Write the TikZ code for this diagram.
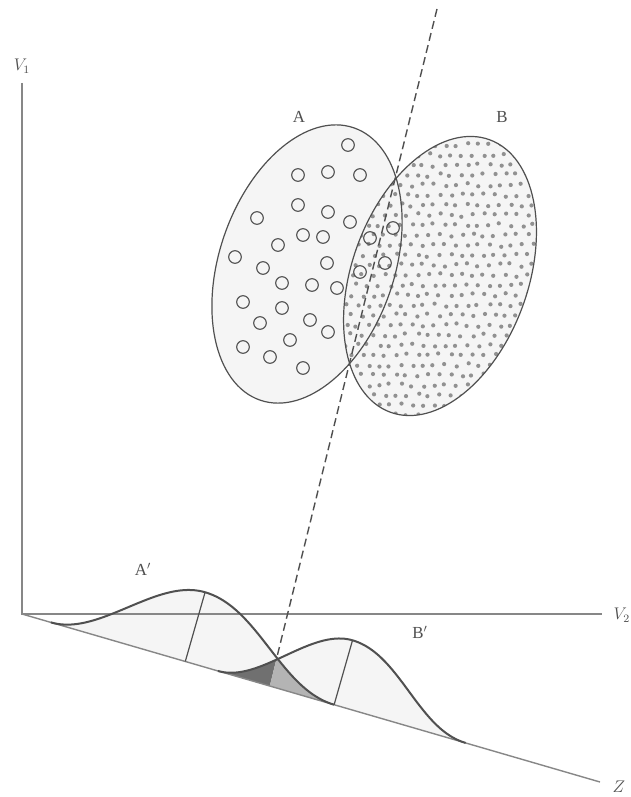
\documentclass[tikz,border=0pt]{standalone}
\usepackage{fontspec}
\setmainfont{Liberation Serif}
\usetikzlibrary{positioning,calc}
\definecolor{inkgrey}{RGB}{80,80,80}
\definecolor{axisgrey}{RGB}{135,135,135}
\definecolor{dotgrey}{RGB}{145,145,145}
\definecolor{paleface}{RGB}{245,245,245}
\definecolor{taildark}{RGB}{112,112,112}
\definecolor{taillight}{RGB}{180,180,180}

\begin{document}
\begin{tikzpicture}[x=0.25mm, y=-0.25mm,
    declare function={
        bellA(\x)=72*(1+cos((\x-170)/(155-15*(\x<170))*180))/2;
        bellB(\x)=67*(1+cos((\x-325)/(137-16*(\x<325))*180))/2;
    },
    axis/.style={draw=axisgrey, line width=0.35mm},
    blob/.style={draw=inkgrey, line width=0.3mm},
    ring/.style={draw=inkgrey, line width=0.28mm},
    bell/.style={draw=inkgrey, line width=0.5mm, line join=round},
    peak/.style={draw=inkgrey, line width=0.3mm},
    disc/.style={draw=inkgrey, line width=0.35mm, dash pattern=on 2mm off 1.1mm},
    lab/.style={text=inkgrey, font=\large, inner sep=1pt},
    % curves stand on the Z axis, heights taken at right angles to it
    curveA/.style={insert path={plot[domain=30:325, samples=90]
        ({22+0.9603*\x+0.2747*bellA(\x)}, {614+0.2791*\x-0.9615*bellA(\x)})}},
    curveB/.style={insert path={plot[domain=204:462, samples=90]
        ({22+0.9603*\x+0.2747*bellB(\x)}, {614+0.2791*\x-0.9615*bellB(\x)})}}
]
    \useasboundingbox (0,0) rectangle (630,797);
    \fill[white] (0,0) rectangle (630,797);

    % key points
    \coordinate (O)     at (22,614);
    \coordinate (v1)    at (22,83);
    \coordinate (v2)    at (602,614);
    \coordinate (zend)  at (600,782);
    \coordinate (cA)    at (307,264);
    \coordinate (cB)    at (440,276);
    \coordinate (top)   at (437,9);
    \coordinate (cross) at (276.5,658.8);

    % the two groups
    \fill[paleface, rotate around={71:(cA)}] (cA) ellipse[x radius=144, y radius=87.5];
    \fill[paleface, rotate around={70:(cB)}] (cB) ellipse[x radius=145, y radius=88];
    \begin{scope}
        \clip[rotate around={70:(cB)}] (cB) ellipse[x radius=145, y radius=88];
        \pgfmathsetseed{11}
        \foreach \j in {0,...,30}{
            \foreach \i in {0,...,20}{
                \fill[dotgrey] ({335+11*\i+5.5*mod(\j,2)+1.8*rand}, {125+10*\j+1.8*rand}) circle[radius=2.1];
            }
        }
    \end{scope}
    \foreach \p in {(348,145),(298,175),(328,172),(360,175),(298,205),(328,212),(350,222),
                    (257,218),(303,235),(323,237),(278,245),(370,238),(393,228),
                    (235,257),(263,268),(327,263),(360,272),(385,263),
                    (282,283),(312,285),(337,288),(243,302),(282,308),(260,323),
                    (310,320),(328,332),(290,340),(243,347),(270,357),(303,368)}
        \draw[ring] \p circle[radius=6.3];
    \draw[blob, rotate around={71:(cA)}] (cA) ellipse[x radius=144, y radius=87.5];
    \draw[blob, rotate around={70:(cB)}] (cB) ellipse[x radius=145, y radius=88];

    % projected distributions
    \fill[paleface] [curveA] -- cycle;
    \fill[paleface] [curveB] -- cycle;
    \begin{scope}
        \clip (150,630) -- (283.6,630) -- (261.4,720) -- (150,720) -- cycle;
        \fill[taildark] [curveB] -- cycle;
    \end{scope}
    \begin{scope}
        \clip (283.6,630) -- (400,630) -- (400,720) -- (261.4,720) -- cycle;
        \fill[taillight] [curveA] -- cycle;
    \end{scope}

    % axes
    \draw[axis] (v1) -- (O) -- (v2);
    \draw[axis] (O) -- (zend);

    \draw[peak] (185.3,661.4) -- (205.1,592.2);
    \draw[peak] (334.1,704.7) -- (352.5,640.3);
    \draw[bell] [curveA];
    \draw[bell] [curveB];

    % discriminant direction
    \draw[disc] (top) -- (cross);

    % labels
    \node[lab] (labA)  at (299,117) {A};
    \node[lab] (labB)  at (502,117) {B};
    \node[lab] (labA2) at (143,569) {A$'$};
    \node[lab] (labB2) at (420,632) {B$'$};
    \node[lab] (labV1) at (22,66)   {$V_1$};
    \node[lab, anchor=west] (labV2) at (612,615) {$V_2$};
    \node[lab] (labZ)  at (619,787) {$Z$};
\end{tikzpicture}
\end{document}
